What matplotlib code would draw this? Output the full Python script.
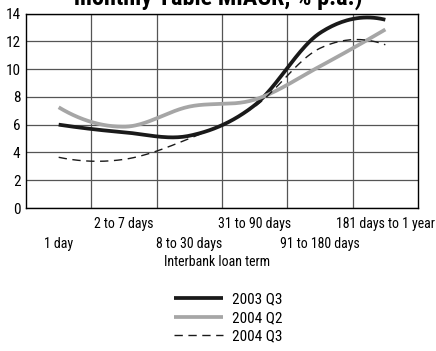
import numpy as np
import matplotlib
matplotlib.use("Agg")
import matplotlib.pyplot as plt
from matplotlib.lines import Line2D
from matplotlib import font_manager as fm

names = {f.name for f in fm.fontManager.ttflist}
stretches = {(f.name, f.stretch) for f in fm.fontManager.ttflist}
narrow = None
for cand in ['Liberation Sans Narrow', 'Roboto Condensed', 'Open Sans Condensed', 'DejaVu Sans Condensed']:
    if cand in names:
        narrow = cand
        break
if narrow is None:
    if any(n == 'DejaVu Sans' and s == 'condensed' for n, s in stretches):
        plt.rcParams['font.family'] = ['DejaVu Sans']
        plt.rcParams['font.stretch'] = 'condensed'
        SCALE = 1.0
    else:
        plt.rcParams['font.family'] = ['DejaVu Sans']
        SCALE = 0.85
else:
    plt.rcParams['font.family'] = [narrow, 'DejaVu Sans']
    SCALE = 1.0

# ---- data ----
terms = ["1 day", "2 to 7 days", "8 to 30 days", "31 to 90 days",
         "91 to 180 days", "181 days to 1 year"]
q3_2003 = [6.0, 5.45, 5.2, 7.4, 12.6, 13.55]
q2_2004 = [7.25, 5.85, 7.3, 7.8, 10.2, 12.85]
q3_2004 = [3.65, 3.5, 5.0, 7.3, 11.5, 11.75]
series_names = ["2003 Q3", "2004 Q2", "2004 Q3"]
yticks = [0, 2, 4, 6, 8, 10, 12, 14]
title = "monthly Table MIACR, % p.a.)"
xlabel = "Interbank loan term"


def smooth(xs, ys, n=40):
    """Cardinal (Catmull-Rom) smoothing between data points, like a smoothed line chart."""
    xs = np.asarray(xs, float)
    ys = np.asarray(ys, float)
    k = len(ys)
    m = np.zeros(k)
    m[1:-1] = (ys[2:] - ys[:-2]) / 2.0
    m[0] = 2 * (ys[1] - ys[0]) - m[1]
    m[-1] = 2 * (ys[-1] - ys[-2]) - m[-2]
    ox, oy = [], []
    for i in range(k - 1):
        t = np.linspace(0, 1, n, endpoint=(i == k - 2))
        h00 = 2 * t**3 - 3 * t**2 + 1
        h10 = t**3 - 2 * t**2 + t
        h01 = -2 * t**3 + 3 * t**2
        h11 = t**3 - t**2
        dx = xs[i + 1] - xs[i]
        ox.append(xs[i] + t * dx)
        oy.append(h00 * ys[i] + h10 * dx * m[i] + h01 * ys[i + 1] + h11 * dx * m[i + 1])
    return np.concatenate(ox), np.concatenate(oy)


fig = plt.figure(figsize=(4.36, 3.51), dpi=100)
ax = fig.add_axes([26 / 436, 1 - 208 / 351, 392 / 436, 194.5 / 351])

pos = np.arange(len(terms)) + 0.5
styles = [dict(color='#1a1a1a', lw=2.7, ls='-'),
          dict(color='#a6a6a6', lw=2.7, ls='-'),
          dict(color='#1a1a1a', lw=1.0, ls=(0, (6, 4)))]
for vals, st in zip([q3_2003, q2_2004, q3_2004], styles):
    sx, sy = smooth(pos, vals)
    ax.plot(sx, sy, solid_capstyle='butt', **st)

fs = 10 * SCALE
ax.set_xlim(0, len(terms))
ax.set_ylim(0, 14)
ax.set_yticks(yticks)
ax.set_xticks(np.arange(1, len(terms)))
ax.set_xticklabels([])
ax.tick_params(axis='both', length=0, labelsize=11 * SCALE, pad=4)
ax.grid(True, color='#555555', lw=0.9)
ax.set_axisbelow(True)
for s in ax.spines.values():
    s.set_color('black')
    s.set_linewidth(1.0)

trans = ax.get_xaxis_transform()
for i, (p, lab) in enumerate(zip(pos, terms)):
    yoff = -0.08 if i % 2 == 1 else -0.185
    ax.text(p, yoff, lab, transform=trans, ha='center', va='center', fontsize=fs)

fig.text(217 / 436, 1 - 262 / 351, xlabel, ha='center', va='center', fontsize=10 * SCALE)
fig.text(218 / 436, 1 - 5 / 351, title, ha='center', va='baseline',
         fontsize=17.5 * SCALE, fontweight='bold')

handles = [Line2D([], [], solid_capstyle='butt', **st) for st in styles]
fig.legend(handles, series_names, loc='center left', bbox_to_anchor=(166 / 436, 1 - 318 / 351),
           frameon=False, fontsize=11 * SCALE, handlelength=3.2 / SCALE, handletextpad=0.6 / SCALE,
           labelspacing=0.3 / SCALE, borderpad=0)

fig.savefig("out.png", dpi=100)
